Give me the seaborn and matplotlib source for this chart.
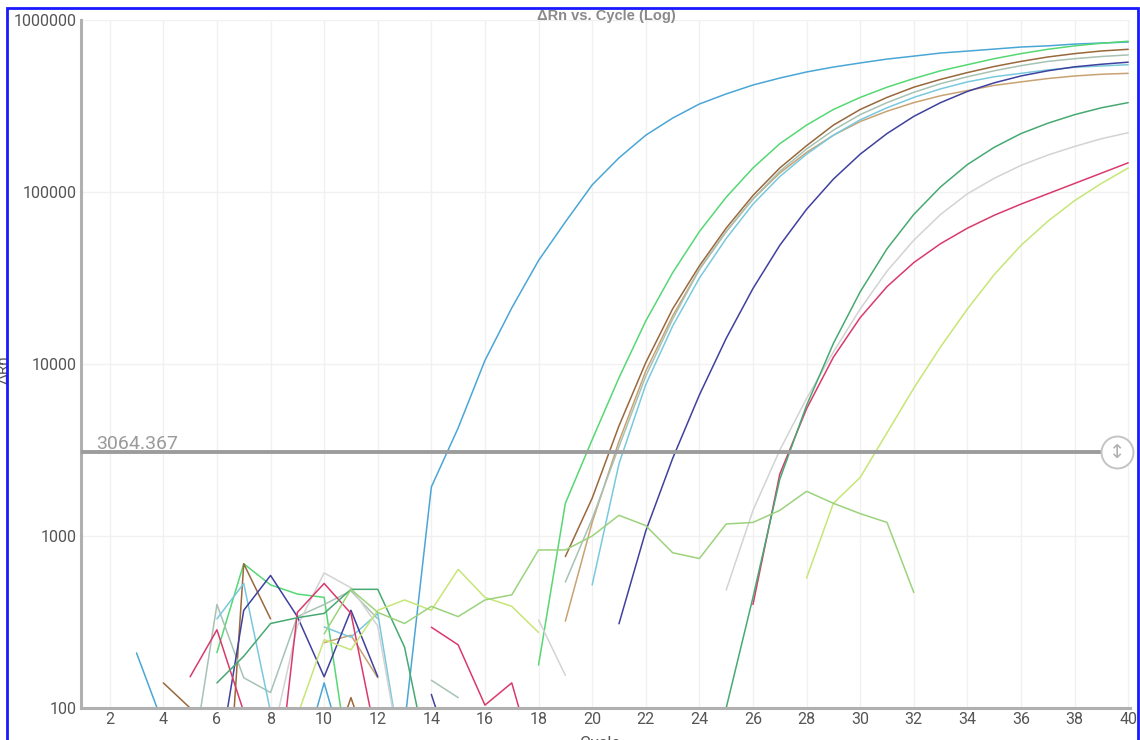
import numpy as np
import pandas as pd
import matplotlib
matplotlib.use('Agg')
import matplotlib.pyplot as plt
import matplotlib.transforms as mtransforms
from matplotlib.patches import Rectangle
from matplotlib.ticker import NullLocator
import seaborn as sns

nan = np.nan

# --- data: delta Rn per cycle (1..40), nan = not plotted (negative / missing) ---
cycles = list(range(1, 41))

sky_blue = [nan, nan, 209, 80, nan, nan, nan, nan, 40, 140,
            40, nan, 80, 1930, 4250, 10500, 21200, 40000, 67000, 110000,
            158000, 214000, 269000, 325000, 372000, 419000, 460000, 499000, 533000, 563000,
            593000, 617000, 643000, 660000, 678000, 697000, 708000, 725000, 735000, 745000]

green = [nan, nan, nan, nan, nan, 210, 690, 520, 460, 440,
         40, nan, nan, nan, nan, nan, nan, 178, 1550, 3630,
         8320, 17800, 33900, 58900, 93300, 138000, 191000, 245000, 302000, 355000,
         407000, 457000, 507000, 550000, 596000, 638000, 676000, 708000, 733000, 753000]

brown = [nan, nan, nan, 140, 100, 3, 690, 330, nan, 40,
         115, 40, nan, nan, nan, nan, nan, nan, 760, 1660,
         4370, 10200, 20900, 37200, 61700, 95500, 138000, 186000, 245000, 302000,
         355000, 407000, 452000, 495000, 537000, 575000, 610000, 638000, 661000, 676000]

tan = [nan, nan, nan, nan, nan, nan, nan, nan, nan, 240,
       265, 150, nan, nan, nan, nan, nan, nan, 320, 1200,
       3550, 9100, 19000, 35500, 58900, 91200, 129000, 170000, 214000, 257000,
       295000, 331000, 363000, 389000, 417000, 437000, 457000, 473000, 484000, 490000]

gray_teal = [nan, nan, nan, nan, 40, 400, 150, 123, 340, 400,
             480, 330, nan, 145, 115, nan, nan, nan, 540, 1260,
             3310, 8500, 18200, 35500, 58900, 91200, 132000, 178000, 229000, 282000,
             331000, 380000, 427000, 468000, 507000, 543000, 575000, 596000, 614000, 627000]

cyan = [nan, nan, nan, nan, nan, 330, 530, 95, nan, 296,
        258, 355, 40, nan, nan, nan, nan, nan, nan, 520,
        2630, 7590, 16600, 31600, 53700, 85100, 123000, 166000, 214000, 263000,
        309000, 355000, 398000, 437000, 468000, 490000, 513000, 531000, 541000, 550000]

navy = [nan, nan, nan, nan, nan, 42, 370, 590, 340, 152,
        370, 152, nan, 120, 40, nan, nan, nan, nan, nan,
        309, 1070, 2820, 6610, 14100, 27500, 49000, 79400, 118900, 166000,
        218800, 275400, 331100, 384600, 431500, 473200, 507000, 534600, 553400, 568900]

light_gray = [nan, nan, nan, nan, nan, nan, nan, 60, 300, 610,
              500, 300, 40, nan, nan, nan, nan, 325, 155, nan,
              nan, nan, nan, nan, 485, 1410, 3160, 6310, 11750, 20890,
              34670, 52480, 74130, 97720, 120200, 142900, 164100, 184100, 204200, 221300]

crimson = [nan, nan, nan, nan, 152, 285, 95, 15, 360, 530,
           355, 60, nan, 295, 233, 104, 140, 40, nan, nan,
           nan, nan, nan, nan, nan, 400, 2290, 5500, 10960, 18620,
           28180, 38900, 50120, 61660, 73280, 85110, 97720, 112200, 128800, 147900]

sea_green = [nan, nan, nan, nan, nan, 140, 200, 310, 335, 355,
             490, 490, 226, 40, nan, nan, nan, nan, nan, nan,
             nan, nan, nan, 20, 100, 440, 2140, 5750, 13180, 26300,
             46770, 74130, 107200, 144500, 182000, 218800, 251200, 281800, 309000, 331100]

lime = [nan, nan, nan, nan, nan, nan, nan, nan, 90, 250,
        218, 370, 425, 370, 640, 440, 390, 275, nan, nan,
        nan, nan, nan, nan, nan, nan, nan, 570, 1550, 2190,
        3980, 7240, 12590, 20890, 33110, 48980, 67610, 89130, 112200, 138000]

pale_green = [nan, nan, nan, nan, nan, nan, nan, nan, nan, 270,
              490, 360, 310, 390, 340, 425, 455, 830, 830, 1000,
              1320, 1150, 800, 740, 1175, 1200, 1410, 1820, 1550, 1350,
              1200, 470, nan, nan, nan, nan, nan, nan, nan, nan]

well_names = ['sky_blue', 'green', 'brown', 'tan', 'gray_teal', 'cyan', 'navy',
              'light_gray', 'crimson', 'sea_green', 'lime', 'pale_green']
well_values = [sky_blue, green, brown, tan, gray_teal, cyan, navy,
               light_gray, crimson, sea_green, lime, pale_green]
well_colors = ['#4aa6d6', '#55d874', '#99683c', '#c9a273', '#a7c2b4', '#79c9de', '#3f419e',
               '#d3d3d3', '#d93a6c', '#47a972', '#c6e676', '#9bd37c']

threshold = 3064.367
y_ticks = [100, 1000, 10000, 100000, 1000000]
x_ticks = list(range(2, 41, 2))

# --- long form table, one unit per unbroken run of points ---
frames = []
for name, vals in zip(well_names, well_values):
    d = pd.DataFrame({'Cycle': cycles, 'dRn': vals})
    d['Well'] = name
    d['Segment'] = name + '_' + d['dRn'].isna().cumsum().astype(str)
    frames.append(d.dropna())
df = pd.concat(frames, ignore_index=True)

sns.set_style('white')
plt.rcParams['font.family'] = ['Roboto', 'DejaVu Sans']

fig = plt.figure(figsize=(11.4, 7.4), dpi=100)
ax = fig.add_axes([0.0711, 0.0432, 0.9202, 0.9297])
ax.set_yscale('log')

sns.lineplot(data=df, x='Cycle', y='dRn', hue='Well', units='Segment', estimator=None,
             palette=dict(zip(well_names, well_colors)), linewidth=1.1, sort=False,
             legend=False, ax=ax)

ax.set_xlim(0.93, 40.07)
ax.set_ylim(100, 1000000)
ax.set_xticks(x_ticks)
ax.set_xticklabels([str(t) for t in x_ticks])
ax.set_yticks(y_ticks)
ax.set_yticklabels([str(t) for t in y_ticks])
ax.yaxis.set_minor_locator(NullLocator())
ax.set_xlabel('')
ax.set_ylabel('')
ax.grid(True, color='#f1f1f1', linewidth=1)
ax.set_axisbelow(True)
ax.tick_params(axis='both', length=0, labelsize=11.5, labelcolor='#555555')
ax.tick_params(axis='x', pad=3)
ax.tick_params(axis='y', pad=3.5)
for side in ['top', 'right']:
    ax.spines[side].set_visible(False)
for side in ['left', 'bottom']:
    ax.spines[side].set_color('#b0b0b0')
    ax.spines[side].set_linewidth(2.2)

# threshold line with drag handle
ax.axhline(threshold, xmin=0, xmax=0.988, color='#9c9c9c', linewidth=2.8, zorder=5)
ytrans = ax.get_yaxis_transform()
ax.plot([0.988], [threshold], marker='o', markersize=23, markerfacecolor='white',
        markeredgecolor='#c4c4c4', markeredgewidth=1.4, transform=ytrans, clip_on=False, zorder=6)
ax.text(0.988, threshold, '\u2195', transform=ytrans, ha='center', va='center',
        fontsize=14, color='#b0b0b0', family='DejaVu Sans', zorder=7)
label_trans = mtransforms.offset_copy(ytrans, fig=fig, y=3, units='dots')
ax.text(0.0143, threshold, f'{threshold:.3f}', transform=label_trans, ha='left', va='baseline',
        fontsize=14, color='#9a9a9a', zorder=7)

# titles, partly cut by the frame like the screenshot
fig.text(0.532, 0.978, '\u0394Rn vs. Cycle (Log)', ha='center', va='center', fontsize=10.5,
         fontweight='bold', color='#8a8a8a', family=['Liberation Sans', 'DejaVu Sans'])
fig.text(0.526, 1 - 736 / 740, 'Cycle', ha='center', va='top', fontsize=12, color='#555555')
fig.text(0.009, 0.5, '\u0394Rn', ha='right', va='center', rotation=90, fontsize=11, color='#555555')

fig.patches.append(Rectangle((0.0061, -0.02), 0.992, 1.0092, transform=fig.transFigure,
                             fill=False, edgecolor='#1a1aff', linewidth=2, zorder=10))

fig.savefig('out.png', dpi=100)
